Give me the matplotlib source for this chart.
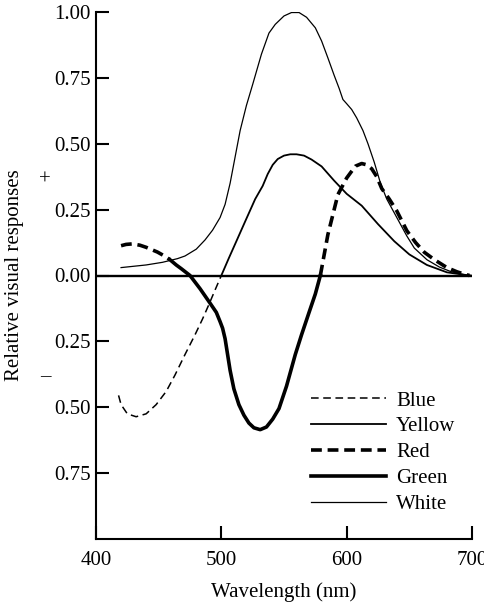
import matplotlib
matplotlib.use("Agg")
import matplotlib.pyplot as plt

plt.rcParams["font.family"] = ["Liberation Serif", "DejaVu Serif"]

# opponent-colour response curves
wl_white = [420, 440, 453, 465, 471, 480, 487, 493, 499, 503, 507, 511, 515, 520, 525, 532,
            538, 543, 550, 556, 562, 568, 575, 580, 585, 590, 594, 597, 600, 604, 608, 613,
            617, 622, 627, 632, 640, 648, 654, 664, 674, 683, 690, 697]
white = [0.03, 0.04, 0.05, 0.064, 0.074, 0.10, 0.135, 0.172, 0.22, 0.27, 0.35, 0.45, 0.55, 0.645,
         0.725, 0.84, 0.92, 0.953, 0.985, 0.998, 0.998, 0.98, 0.94, 0.89, 0.826, 0.76, 0.71,
         0.668, 0.652, 0.63, 0.598, 0.55, 0.50, 0.43, 0.35, 0.29, 0.22, 0.15, 0.104, 0.06,
         0.032, 0.015, 0.007, 0.0]

wl_blue = [418, 420, 425, 432, 440, 448, 456, 463, 471, 479, 485, 490, 495, 500]
blue = [-0.455, -0.49, -0.525, -0.536, -0.525, -0.49, -0.44, -0.378, -0.30, -0.225, -0.165,
        -0.111, -0.055, 0.0]

wl_yellow = [500, 506, 512, 519, 527, 533, 537, 541, 545, 550, 555, 560, 566, 572, 580, 590,
             600, 612, 625, 638, 650, 664, 680, 695, 699]
yellow = [0.0, 0.066, 0.13, 0.205, 0.29, 0.34, 0.385, 0.42, 0.442, 0.455, 0.46, 0.46, 0.455,
          0.44, 0.414, 0.36, 0.31, 0.265, 0.195, 0.13, 0.08, 0.04, 0.012, 0.002, 0.0]

wl_red_short = [420, 424, 429, 435, 440, 449, 455, 459]
red_short = [0.113, 0.118, 0.12, 0.115, 0.107, 0.089, 0.073, 0.06]

wl_green = [459, 464, 468, 475, 483, 491, 496, 499, 501, 503, 505, 507, 510, 514, 518, 522,
            526, 531, 536, 541, 546, 552, 559, 564, 570, 575, 579]
green = [0.06, 0.04, 0.026, 0.0, -0.05, -0.105, -0.14, -0.175, -0.2, -0.24, -0.30, -0.36,
         -0.43, -0.49, -0.53, -0.56, -0.578, -0.585, -0.575, -0.545, -0.505, -0.42, -0.30,
         -0.225, -0.14, -0.07, 0.0]

wl_red_long = [579, 585, 593, 600, 607, 612, 616, 620, 624, 628, 634, 640, 648, 655, 662, 670,
               680, 688, 694, 698]
red_long = [0.0, 0.155, 0.307, 0.37, 0.415, 0.425, 0.42, 0.405, 0.375, 0.33, 0.29, 0.245, 0.17,
            0.125, 0.088, 0.06, 0.03, 0.014, 0.005, 0.0]

xticks = [400, 500, 600, 700]
yticks = [1.0, 0.75, 0.5, 0.25, 0.0, -0.25, -0.5, -0.75]
ytick_labels = ["1.00", "0.75", "0.50", "0.25", "0.00", "0.25", "0.50", "0.75"]

fig = plt.figure(figsize=(4.85, 6.03), dpi=100)
ax = fig.add_axes([96 / 485, 1 - 539 / 603, 376 / 485, 527 / 603])

ax.axhline(0, color="black", lw=1.7, zorder=1)

l_blue, = ax.plot(wl_blue, blue, color="black", lw=1.1, ls=(0, (5, 3)), label="Blue")
l_yellow, = ax.plot(wl_yellow, yellow, color="black", lw=1.3, label="Yellow")
l_red, = ax.plot(wl_red_short, red_short, color="black", lw=2.6, ls=(0, (3, 1.6)), label="Red")
ax.plot(wl_red_long, red_long, color="black", lw=2.6, ls=(0, (3, 1.6)))
l_green, = ax.plot(wl_green, green, color="black", lw=2.6, label="Green")
l_white, = ax.plot(wl_white, white, color="black", lw=0.9, label="White")

ax.set_xlim(400, 700)
ax.set_ylim(-1.0, 1.0)
ax.set_xticks(xticks)
ax.set_yticks(yticks)
ax.set_yticklabels(ytick_labels)
ax.tick_params(direction="in", length=9.5, width=1.5, labelsize=15)
ax.tick_params(axis="x", pad=8.5)
ax.tick_params(axis="y", pad=4)

for side in ["top", "right"]:
    ax.spines[side].set_visible(False)
for side in ["left", "bottom"]:
    ax.spines[side].set_linewidth(1.5)

ax.set_xlabel("Wavelength (nm)", fontsize=15, labelpad=9)
ax.set_ylabel("Relative visual responses", fontsize=15, va="center")
ax.yaxis.set_label_coords((15 - 96) / 376, 0.5)

fig.text(45 / 485, 1 - 180 / 603, "+", fontsize=15, ha="center", va="center")
fig.text(45 / 485, 1 - 377 / 603, "\u2013", fontsize=15, ha="center", va="center")

ax.legend(handles=[l_blue, l_yellow, l_red, l_green, l_white],
          loc="upper left", bbox_to_anchor=(311 / 485, 1 - 391 / 603),
          bbox_transform=fig.transFigure, frameon=False, fontsize=15,
          borderpad=0, borderaxespad=0, handlelength=3.6, handletextpad=0.48,
          labelspacing=0.3)

fig.savefig("out.png", dpi=100)
